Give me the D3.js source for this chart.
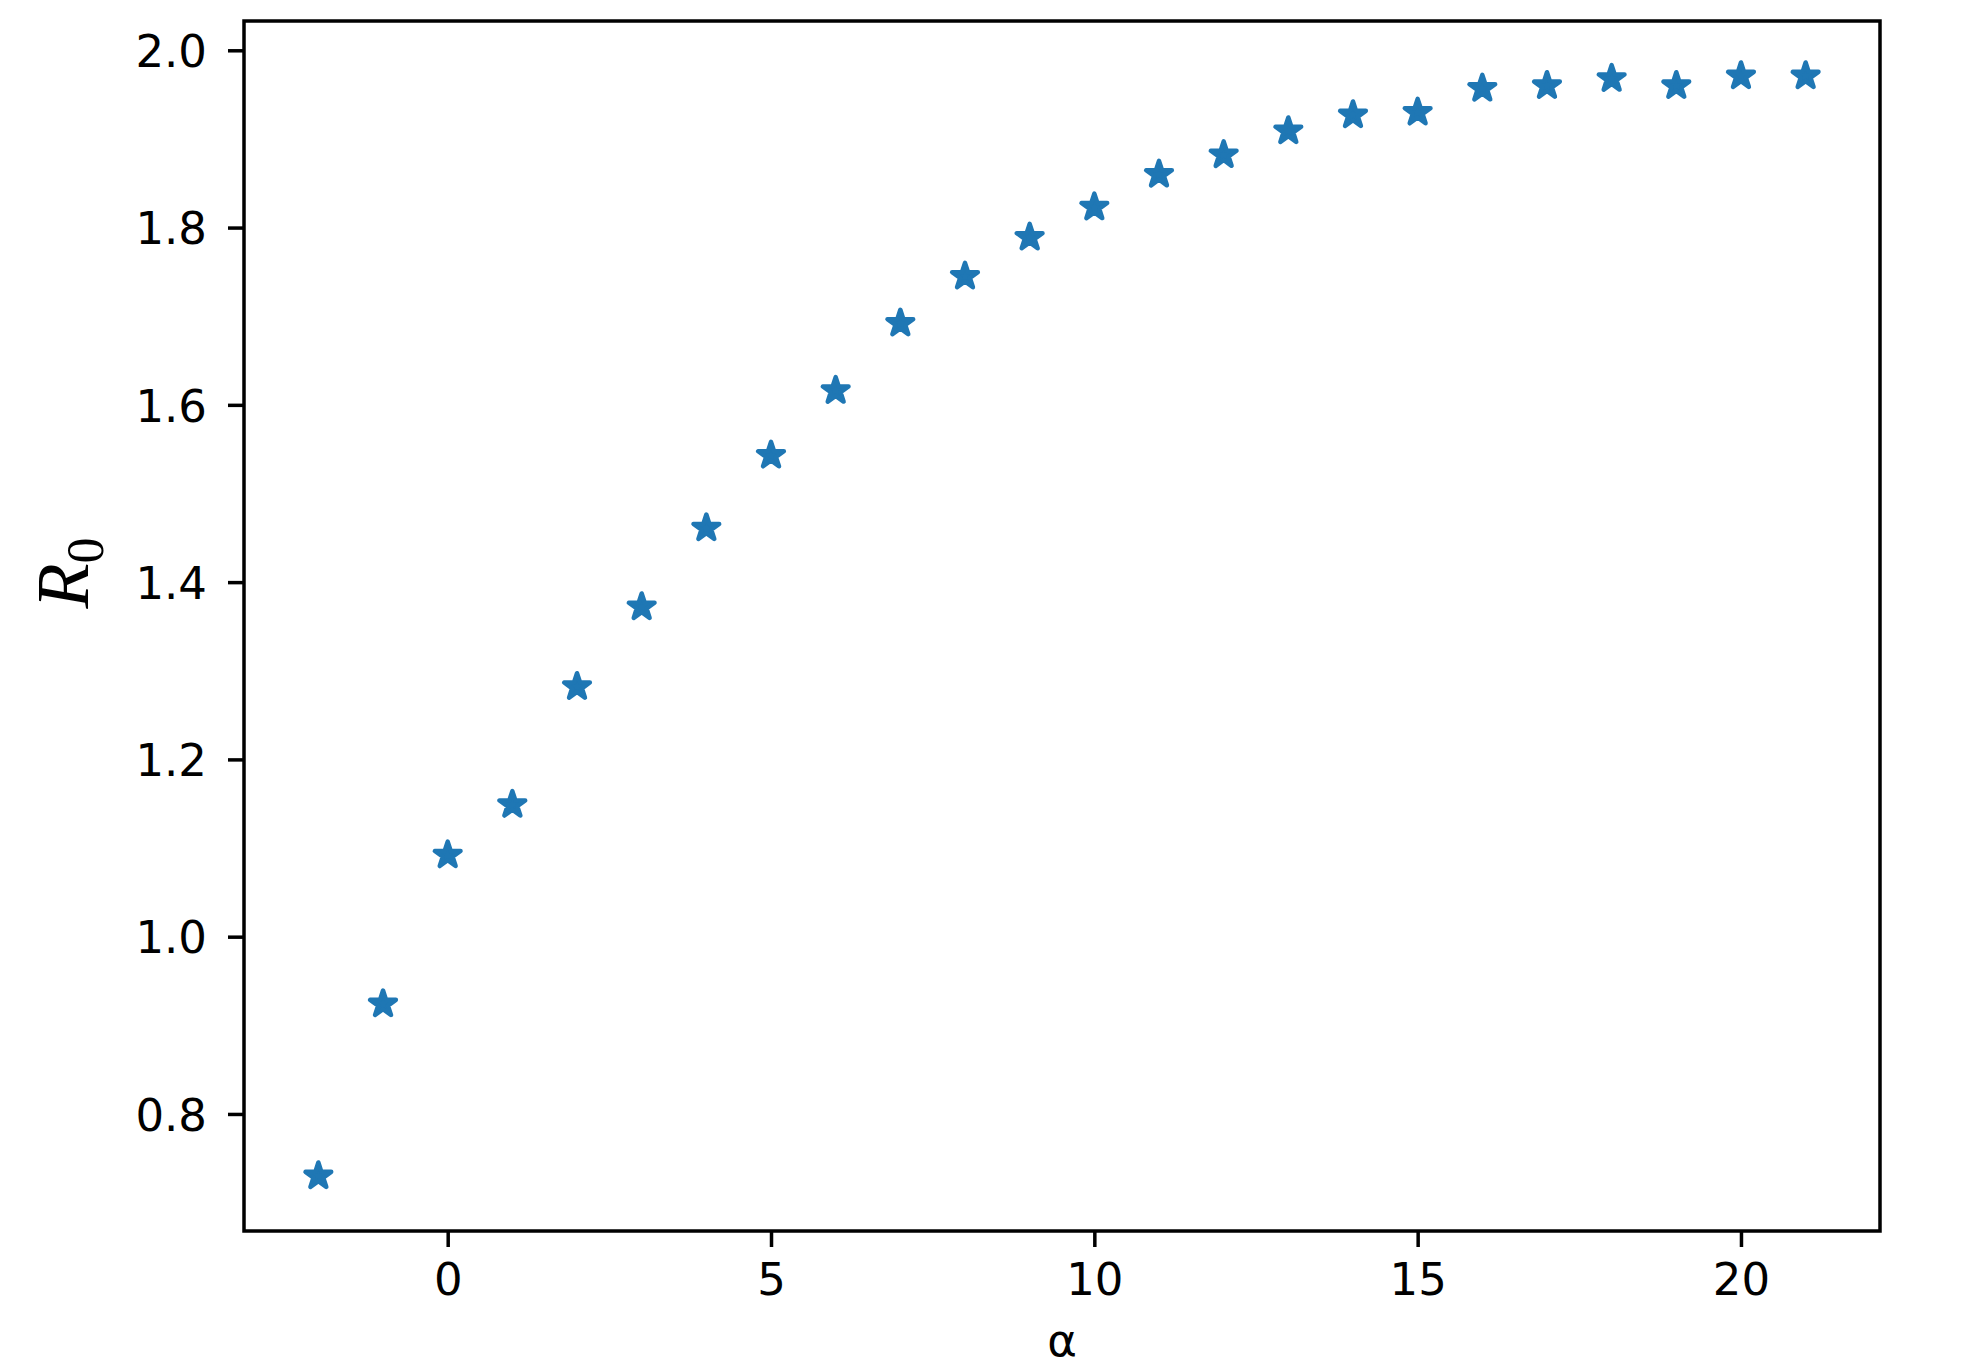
<!DOCTYPE html>
<html>
<head>
<meta charset="utf-8">
<script src="https://cdn.jsdelivr.net/npm/d3@7"></script>
<style>
  body { margin: 0; background: #fff; }
  svg { display: block; }
</style>
</head>
<body>
<svg id="chart" width="1982" height="1363"></svg>
<script>
// data: alpha vs R0
var alphas = [-2, -1, 0, 1, 2, 3, 4, 5, 6, 7, 8, 9, 10, 11, 12, 13, 14, 15, 16, 17, 18, 19, 20, 21];
var r0Values = [0.730, 0.924, 1.092, 1.149, 1.282, 1.372, 1.461, 1.543, 1.616, 1.692, 1.745, 1.789,
  1.823, 1.860, 1.882, 1.909, 1.927, 1.930, 1.957, 1.960, 1.968, 1.960, 1.971, 1.971];
var xTicks = [0, 5, 10, 15, 20];
var yTicks = [0.8, 1.0, 1.2, 1.4, 1.6, 1.8, 2.0];

var svg = d3.select("#chart");
// plot box in pixels (note: "top" is taken by window.top)
var box = { left: 244, right: 1880, top: 21, bottom: 1231 };
var color = "#1f77b4";
var font = "'DejaVu Sans', sans-serif";

// axis limits like matplotlib: 5% margin round the data
function padded(ext) {
  var m = (ext[1] - ext[0]) * 0.05;
  return [ext[0] - m, ext[1] + m];
}

var xScale = d3.scaleLinear().domain(padded(d3.extent(alphas))).range([box.left, box.right]);
var yScale = d3.scaleLinear().domain(padded(d3.extent(r0Values))).range([box.bottom, box.top]);

var points = alphas.map(function (a, i) {
  return { x: a, y: r0Values[i] };
});

// star markers, outer radius ~13.5px
var starR = 13.5;
var star = d3.symbol().type(d3.symbolStar).size((starR * starR) / 0.8908130915292852);

svg
  .append("g")
  .selectAll("path")
  .data(points)
  .enter()
  .append("path")
  .attr("d", star)
  .attr("transform", function (d) {
    return "translate(" + xScale(d.x) + "," + yScale(d.y) + ")";
  })
  .attr("fill", color)
  .attr("stroke", color)
  .attr("stroke-width", 4.5)
  .attr("stroke-linejoin", "round");

// x axis
var xAxis = svg
  .append("g")
  .attr("transform", "translate(0," + box.bottom + ")")
  .call(d3.axisBottom(xScale).tickValues(xTicks).tickSize(16).tickPadding(16).tickFormat(d3.format("d")));

// y axis
var yAxis = svg
  .append("g")
  .attr("transform", "translate(" + box.left + ",0)")
  .call(d3.axisLeft(yScale).tickValues(yTicks).tickSize(16).tickPadding(21).tickFormat(d3.format(".1f")));

[xAxis, yAxis].forEach(function (ax) {
  ax.select(".domain").remove();
  ax.selectAll("line").attr("stroke", "#000").attr("stroke-width", 3.5);
  ax.selectAll("text")
    .attr("fill", "#000")
    .attr("font-family", font)
    .attr("font-size", "45px");
});
yAxis.selectAll("text").attr("dy", "0.36em");

// frame
svg
  .append("rect")
  .attr("x", box.left)
  .attr("y", box.top)
  .attr("width", box.right - box.left)
  .attr("height", box.bottom - box.top)
  .attr("fill", "none")
  .attr("stroke", "#000")
  .attr("stroke-width", 3.5);

// x label
svg
  .append("text")
  .attr("x", (box.left + box.right) / 2)
  .attr("y", 1356)
  .attr("text-anchor", "middle")
  .attr("font-family", font)
  .attr("font-size", "45px")
  .attr("fill", "#000")
  .text("α");

// y label R_0
var yLabel = svg
  .append("text")
  .attr("transform", "translate(88,573) rotate(-90)")
  .attr("text-anchor", "middle")
  .attr("font-family", "'Liberation Serif', 'DejaVu Serif', serif")
  .attr("font-size", "74px")
  .attr("fill", "#000");
yLabel.append("tspan").attr("font-style", "italic").text("R");
yLabel.append("tspan").attr("font-size", "52px").attr("dy", 15).text("0");
</script>
</body>
</html>
